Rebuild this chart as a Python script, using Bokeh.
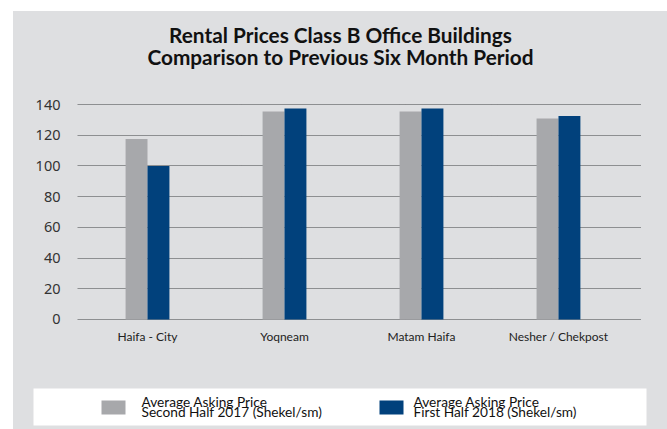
from bokeh.plotting import figure
from bokeh.layouts import column
from bokeh.models import Range1d, FixedTicker
from bokeh.core.properties import value
from bokeh.embed import file_html
from bokeh.resources import INLINE
import numpy as np

# ---- data ----
cities = ["Haifa - City", "Yoqneam", "Matam Haifa", "Nesher / Chekpost"]
h2_2017 = [117.5, 135.5, 135.5, 131]
h1_2018 = [100, 137.5, 137.5, 132.5]
y_ticks = [0, 20, 40, 60, 80, 100, 120, 140]
legend_line1 = ["Average Asking Price", "Average Asking Price"]
legend_line2 = ["Second Half 2017 (Shekel/sm)", "First Half 2018 (Shekel/sm)"]
series_colors = ["#a7a8ab", "#01417c"]
title_lines = ["Rental Prices Class B Office Buildings",
               "Comparison to Previous Six Month Period"]

BG = "#dedfe1"
W = 654


def blank(h):
    f = figure(width=W, height=h, output_backend="svg", toolbar_location=None,
               x_range=Range1d(0, W), y_range=Range1d(h, 0),
               x_axis_location=None, y_axis_location=None,
               min_border=0, min_border_left=0, min_border_right=0,
               min_border_top=0, min_border_bottom=0,
               background_fill_color=BG, border_fill_color=BG,
               outline_line_color=None, frame_align=False)
    f.grid.visible = False
    return f


# ---- title ----
t = blank(80)
t.text(x=[327, 327], y=[22.5, 44.5], text=title_lines, text_align="center",
       text_baseline="alphabetic", text_font=value("Lato"), text_font_style="bold",
       text_font_size="20.8px", text_color="#111111")

# ---- chart ----
p = figure(width=W, height=264, output_backend="svg", toolbar_location=None,
           x_range=Range1d(-0.511, 3.606), y_range=Range1d(-0.7, 140.7),
           min_border_left=64, min_border_right=26, min_border_top=12, min_border_bottom=35,
           background_fill_color=BG, border_fill_color=BG, outline_line_color=None,
           frame_align=False)

idx = np.arange(len(cities))
bw = 0.16
p.vbar(x=idx - bw / 2, top=h2_2017, width=bw, fill_color=series_colors[0], line_color=None)
p.vbar(x=idx + bw / 2, top=h1_2018, width=bw, fill_color=series_colors[1], line_color=None)

p.yaxis.ticker = FixedTicker(ticks=y_ticks)
p.yaxis.axis_line_color = None
p.yaxis.major_tick_line_color = None
p.yaxis.minor_tick_line_color = None
p.yaxis.major_label_standoff = 11
p.yaxis.major_label_text_font = "Noto Sans"
p.yaxis.major_label_text_font_size = "14.5px"
p.yaxis.major_label_text_color = "#333333"

p.xaxis.ticker = FixedTicker(ticks=list(idx))
p.xaxis.major_label_overrides = {int(i): c for i, c in zip(idx, cities)}
p.xaxis.axis_line_color = None
p.xaxis.major_tick_line_color = None
p.xaxis.minor_tick_line_color = None
p.xaxis.major_label_standoff = 2
p.xaxis.major_label_text_font = "Lato"
p.xaxis.major_label_text_font_size = "12px"
p.xaxis.major_label_text_color = "#222222"

p.xgrid.grid_line_color = None
p.ygrid.grid_line_color = "#3d3e40"
p.ygrid.grid_line_dash = "1 1"
p.ygrid.grid_line_width = 1

# ---- legend ----
lg = blank(74)
lg.quad(left=[20], right=[633], top=[33], bottom=[70], fill_color="white", line_color=None)
sw_left = [88, 366]
tx_left = [128, 400]
lg.quad(left=sw_left, right=[s + 24 for s in sw_left], top=[45, 45], bottom=[59, 59],
        fill_color=series_colors, line_color=None)
lg.text(x=tx_left, y=[45.5, 45.5], text=legend_line1, text_align="left",
        text_baseline="alphabetic", text_font=value("Lato"), text_font_size="13.7px",
        text_color="#111111")
lg.text(x=tx_left, y=[56, 56], text=legend_line2, text_align="left",
        text_baseline="alphabetic", text_font=value("Lato"), text_font_size="13.7px",
        text_color="#111111")

layout = column(t, p, lg, spacing=0)
layout.margin = (11, 0, 0, 13)
layout.styles = {"background-color": BG}

open("out.html", "w").write(file_html(layout, INLINE))
